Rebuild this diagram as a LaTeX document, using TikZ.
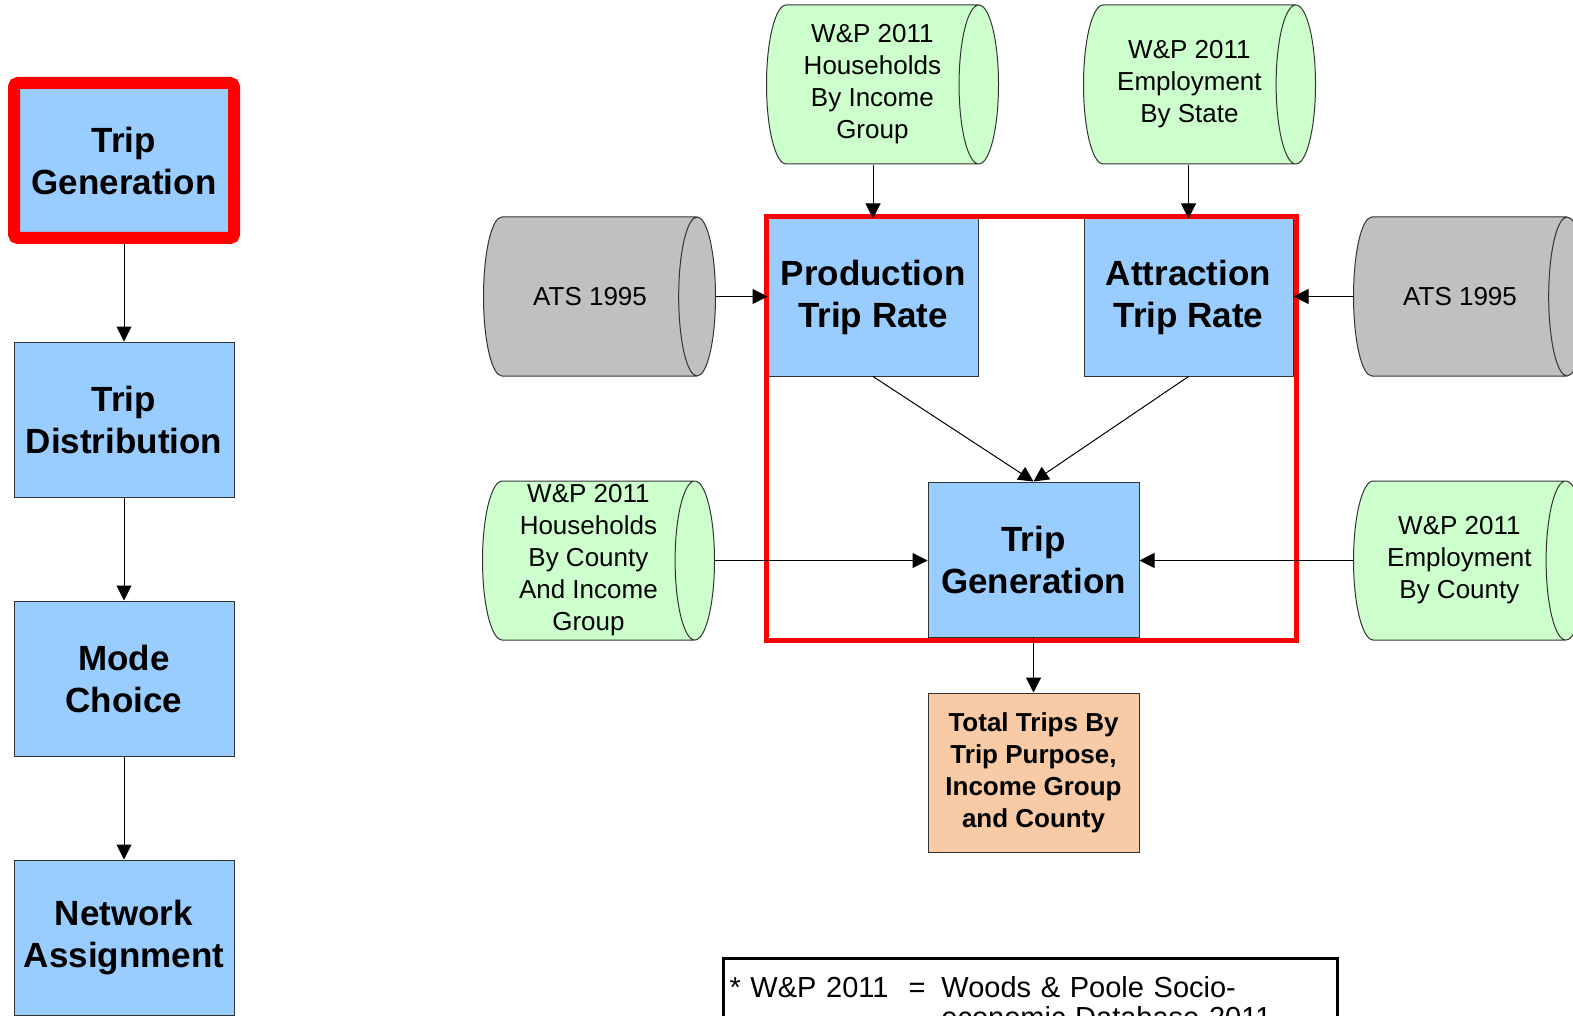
\documentclass[tikz,border=0pt]{standalone}
\usepackage{fontspec}
\setmainfont{Liberation Sans}
\usepackage{tikz}
\usetikzlibrary{shapes.geometric, arrows.meta}
\definecolor{stageblue}{HTML}{99CCFF}
\definecolor{datagreen}{HTML}{CCFFCC}
\definecolor{datagrey}{HTML}{C0C0C0}
\definecolor{resultpeach}{HTML}{F8CBA6}

\begin{document}
\begin{tikzpicture}[x=0.5pt, y=-0.5pt,
  box/.style={draw=black!80, line width=0.5pt, fill=stageblue, align=center, inner sep=0pt,
    font=\fontsize{17.5}{21}\selectfont\bfseries},
  stage/.style={box, minimum width=110pt, minimum height=77.5pt},
  data/.style={cylinder, draw=black!80, line width=0.5pt, align=center,
    anchor=west, inner sep=0pt, minimum width=79.5pt, minimum height=116pt,
    font=\fontsize{13}{16}\selectfont},
  flow/.style={-{Triangle[length=7.5pt,width=7.5pt]}, line width=0.5pt}]
\clip (0,0) rectangle (1573,1016);

% model steps
\node[stage, draw=red, line width=6pt, rounded corners=2pt] (gen) at (124,160.5) {Trip\\Generation};
\node[stage] (dist) at (124,419.5) {Trip\\Distribution};
\node[stage] (mode) at (124,678.5) {Mode\\Choice};
\node[stage] (assign) at (124,937.5) {Network\\Assignment};
\draw[flow] (gen) -- (dist);
\draw[flow] (dist) -- (mode);
\draw[flow] (mode) -- (assign);

% inputs (cap width follows the text height, hence the aspects)
\node[data, fill=datagreen, shape aspect=0.33] (hhinc) at (766,84.5) {W\&P 2011\\Households\\By Income\\Group};
\node[data, fill=datagreen, shape aspect=0.45] (empstate) at (1083,84.5) {W\&P 2011\\Employment\\By State};
\node[data, fill=datagrey, shape aspect=2] (atsl) at (483,296.5) {ATS 1995};
\node[data, fill=datagrey, shape aspect=2] (atsr) at (1353,296.5) {ATS 1995};
\node[data, fill=datagreen, shape aspect=0.26] (hhcounty) at (482,560.5) {W\&P 2011\\Households\\By County\\And Income\\Group};
\node[data, fill=datagreen, shape aspect=0.45] (empcounty) at (1353,560.5) {W\&P 2011\\Employment\\By County};

% trip generation steps
\node[box, minimum width=105pt, minimum height=78.5pt] (prod) at (873,297.5) {Production\\Trip Rate};
\node[box, minimum width=104.5pt, minimum height=78.5pt] (attr) at (1188.5,297.5) {Attraction\\Trip Rate};
\node[box, minimum width=105.5pt, minimum height=77.5pt] (tg) at (1033.5,559.5) {Trip\\Generation};
\node[box, fill=resultpeach, minimum width=105.5pt, minimum height=79.5pt,
  font=\fontsize{13}{16}\selectfont\bfseries] (total) at (1033.5,772.5) {Total Trips By\\Trip Purpose,\\Income Group\\and County};

\draw[red, line width=2.5pt] (766,217) rectangle (1296,640);

\draw[flow] (prod.north |- hhinc.south) -- (prod.north);
\draw[flow] (attr.north |- empstate.south) -- (attr.north);
\draw[flow] (atsl.east) -- (atsl.east -| prod.west);
\draw[flow] (atsr.west) -- (atsr.west -| attr.east);
\draw[flow] (prod.south) -- (tg.north);
\draw[flow] (attr.south) -- (tg.north);
\draw[flow] (hhcounty.east) -- (hhcounty.east -| tg.west);
\draw[flow] (empcounty.west) -- (empcounty.west -| tg.east);
\draw[flow] (tg.south) -- (total.north);

% key
\node[draw, line width=1.5pt, anchor=north west, inner xsep=3pt, inner ysep=9pt,
  text width=301pt, align=left, font=\fontsize{14.5}{14.5}\selectfont] (key) at (722,957)
  {\begin{tabular}{@{}l@{\hspace{10pt}}l@{\hspace{8pt}}l@{}}
   * W\&P 2011 & = & Woods \& Poole Socio-\\
   & & economic Database 2011
   \end{tabular}};
\end{tikzpicture}
\end{document}
